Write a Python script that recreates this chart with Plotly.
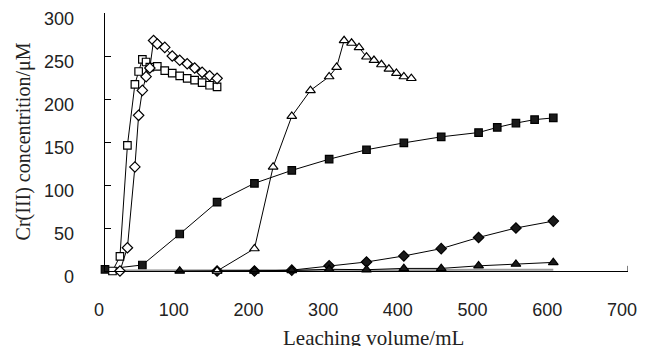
import plotly.graph_objects as go

# Open squares
sq_open_x = [10, 20, 30, 40, 45, 50, 55, 60, 70, 80, 90, 100, 110, 120, 130, 140, 150]
sq_open_y = [0, 17, 146, 217, 232, 246, 243, 237, 238, 233, 230, 227, 224, 222, 219, 216, 214]
# Open diamonds
di_open_x = [20, 30, 40, 45, 50, 55, 60, 65, 70, 80, 90, 100, 110, 120, 130, 140, 150]
di_open_y = [0, 27, 121, 181, 210, 226, 236, 268, 264, 260, 250, 245, 241, 236, 231, 227, 224]
# Open triangles
tr_open_x = [150, 200, 225, 250, 275, 300, 310, 320, 330, 340, 350, 360, 370, 380, 390, 400, 410]
tr_open_y = [0, 26, 121, 180, 210, 226, 237, 268, 265, 260, 249, 245, 240, 235, 230, 226, 224]
# Filled squares
sq_fill_x = [0, 50, 100, 150, 200, 250, 300, 350, 400, 450, 500, 525, 550, 575, 600]
sq_fill_y = [2, 7, 43, 80, 102, 117, 130, 141, 149, 156, 161, 167, 172, 176, 178]
# Filled diamonds
di_fill_x = [150, 200, 250, 300, 350, 400, 450, 500, 550, 600]
di_fill_y = [0, 0, 1, 6, 10.5, 17.5, 26, 39, 50, 58]
# Filled triangles
tr_fill_x = [100, 150, 200, 250, 300, 350, 400, 450, 500, 550, 600]
tr_fill_y = [0, 0, 0, 0.5, 2, 1.5, 3, 3, 6, 8, 10]
# Gray baseline series
gray_x = [0, 100, 200, 300, 400, 500, 600]
gray_y = [0.5, 0.5, 0.5, 1, 1, 1.5, 1.5]

x_ticks = [0, 100, 200, 300, 400, 500, 600, 700]
y_ticks = [0, 50, 100, 150, 200, 250, 300]

fig = go.Figure()

def add(x, y, symbol, fill, size, lcolor="black", width=1, mode="lines+markers"):
    fig.add_trace(go.Scatter(
        x=x, y=y, mode=mode, cliponaxis=False, showlegend=False,
        line=dict(color=lcolor, width=width),
        marker=dict(symbol=symbol, size=size, color=fill,
                    line=dict(color="black", width=1.2)),
    ))

add(gray_x, gray_y, "circle", "gray", 1, lcolor="#9a9a9a", width=2, mode="lines")
add(sq_fill_x, sq_fill_y, "square", "#1a1a1a", 7.5)
add(di_fill_x, di_fill_y, "diamond", "#1a1a1a", 8)
add(tr_fill_x, tr_fill_y, "triangle-up", "#1a1a1a", 8.5)
add(sq_open_x, sq_open_y, "square", "white", 7.5)
add(di_open_x, di_open_y, "diamond", "white", 8)
add(tr_open_x, tr_open_y, "triangle-up", "white", 8.5)

fig.add_shape(type="line", xref="x", yref="paper", x0=700, x1=700, y0=0, y1=0.02,
              line=dict(color="black", width=1))

# y tick labels (drawn slightly below their ticks, as in the original)
for v in y_ticks:
    fig.add_annotation(text=str(v), xref="paper", yref="y", x=-0.056, y=v,
                       xanchor="right", yanchor="middle", yshift=-6, showarrow=False,
                       font=dict(family="Liberation Sans", size=18, color="#222"))

fig.add_annotation(text="Leaching volume/mL", xref="paper", yref="paper",
                   x=0.513, y=-0.258, xanchor="center", yanchor="middle",
                   showarrow=False, font=dict(family="Liberation Serif", size=21, color="#222"))
fig.add_annotation(text="Cr(III) concentrition/μM", xref="paper", yref="paper",
                   x=-0.154, y=0.504, xanchor="center", yanchor="middle", textangle=-90,
                   showarrow=False, font=dict(family="Liberation Serif", size=20, color="#222"))

fig.update_layout(
    width=646, height=346,
    margin=dict(l=105, r=9, t=13, b=75),
    paper_bgcolor="white", plot_bgcolor="white",
    xaxis=dict(range=[0, 700], tickvals=x_ticks, ticktext=[str(v) for v in x_ticks],
               showline=True, linecolor="black", linewidth=1, ticks="",
               showgrid=False, zeroline=False, ticklabelstandoff=22, ticklabelshift=-6,
               ticklabeloverflow="allow",
               tickfont=dict(family="Liberation Sans", size=18, color="#222")),
    yaxis=dict(range=[0, 300], tickvals=y_ticks, showticklabels=False,
               showline=True, linecolor="black", linewidth=1, ticks="inside", ticklen=6,
               tickcolor="black", showgrid=False, zeroline=False),
)

fig.write_html("out.html", config={"displayModeBar": False},
               post_script="document.body.style.margin='0';document.body.style.overflow='hidden';")
